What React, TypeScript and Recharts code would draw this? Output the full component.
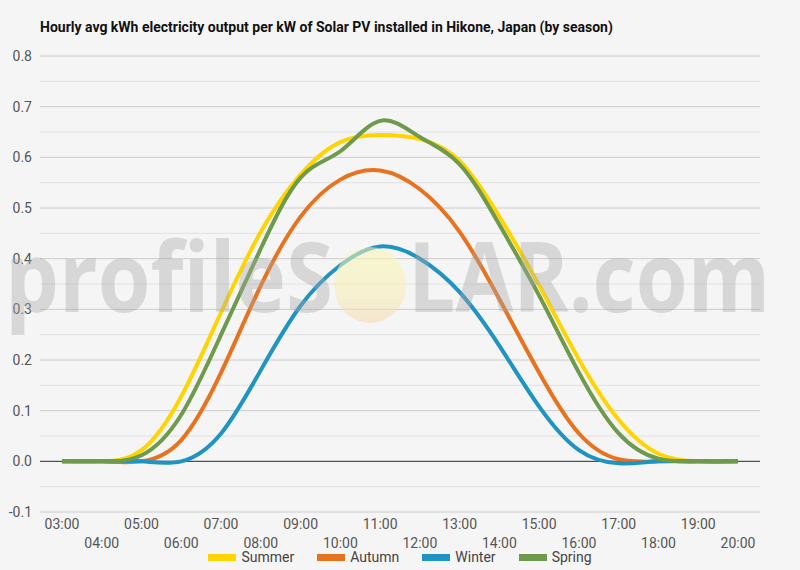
import { CartesianGrid, Line, LineChart, XAxis, YAxis } from "recharts";

const hours = [
  "03:00", "04:00", "05:00", "06:00", "07:00", "08:00", "09:00", "10:00", "11:00",
  "12:00", "13:00", "14:00", "15:00", "16:00", "17:00", "18:00", "19:00", "20:00",
];

const summer = [0, 0, 0.022, 0.128, 0.294, 0.453, 0.566, 0.63, 0.644, 0.636, 0.593, 0.483, 0.347, 0.201, 0.082, 0.015, 0, 0];
const autumn = [0, 0, 0, 0.042, 0.175, 0.347, 0.483, 0.556, 0.574, 0.537, 0.453, 0.32, 0.175, 0.055, 0.004, 0, 0, 0];
const winter = [0, 0, 0, 0, 0.055, 0.18, 0.307, 0.387, 0.424, 0.4, 0.334, 0.228, 0.108, 0.022, -0.004, 0, 0, 0];
const spring = [0, 0, 0.012, 0.092, 0.25, 0.42, 0.56, 0.612, 0.672, 0.64, 0.586, 0.467, 0.327, 0.175, 0.055, 0.005, 0, 0];

const majorTicks = [-0.1, 0, 0.1, 0.2, 0.3, 0.4, 0.5, 0.6, 0.7, 0.8];
const minorTicks = [-0.05, 0.05, 0.15, 0.25, 0.35, 0.45, 0.55, 0.65, 0.75];

const series = [
  { key: "summer", name: "Summer", color: "#FFD400" },
  { key: "autumn", name: "Autumn", color: "#E8731F" },
  { key: "winter", name: "Winter", color: "#1F93C2" },
  { key: "spring", name: "Spring", color: "#6E9A4C" },
];

const data = hours.map((hour, i) => ({
  hour,
  summer: summer[i],
  autumn: autumn[i],
  winter: winter[i],
  spring: spring[i],
}));

const FONT = "Roboto, sans-serif";

function HourTick({ x, y, payload, index }: any) {
  const row = index % 2;
  return (
    <text x={x} y={y + 15 + row * 19} textAnchor="middle" fontSize={14} fill="#555" fontFamily={FONT}>
      {payload.value}
    </text>
  );
}

function Watermark() {
  return (
    <svg width={800} height={570} style={{ position: "absolute", left: 0, top: 0, pointerEvents: "none" }}>
      <defs>
        <linearGradient id="sun" x1="0" y1="0" x2="0" y2="1">
          <stop offset="0%" stopColor="#f9f6b0" />
          <stop offset="60%" stopColor="#f7efb4" />
          <stop offset="100%" stopColor="#f4d6b0" />
        </linearGradient>
      </defs>
      <g fill="#a8a8a8" opacity={0.38} fontFamily="'Open Sans', sans-serif" fontWeight={700} fontSize={96}>
        <text x={5} y={312} textLength={328} lengthAdjust="spacingAndGlyphs">profileS</text>
        <text x={408} y={312} textLength={362} lengthAdjust="spacingAndGlyphs">LAR.com</text>
      </g>
      <ellipse cx={370} cy={285} rx={36} ry={38} fill="url(#sun)" opacity={0.55} />
    </svg>
  );
}

export default function App() {
  return (
    <div style={{ position: "absolute", left: 0, top: 0, width: 800, height: 570, background: "#f5f5f5", fontFamily: FONT }}>
      <div style={{ position: "absolute", left: 40, top: 19, fontSize: 14, fontWeight: 700, color: "#111" }}>
        Hourly avg kWh electricity output per kW of Solar PV installed in Hikone, Japan (by season)
      </div>
      <LineChart width={800} height={570} data={data} margin={{ top: 56, right: 40, bottom: 0, left: 0 }}>
        <CartesianGrid vertical={false} horizontalValues={minorTicks} stroke="#e0e0e0" />
        <CartesianGrid vertical={false} horizontalValues={majorTicks} stroke="#cccccc" />
        <CartesianGrid vertical={false} horizontalValues={[0]} stroke="#333333" />
        <XAxis
          dataKey="hour"
          interval={0}
          axisLine={false}
          tickLine={false}
          tickSize={0}
          height={58}
          padding={{ left: 22, right: 22 }}
          tick={<HourTick />}
        />
        <YAxis
          domain={[-0.1, 0.8]}
          ticks={majorTicks}
          width={40}
          axisLine={false}
          tickLine={false}
          tickFormatter={(v: number) => v.toFixed(1)}
          tick={{ fontSize: 14, fill: "#555", fontFamily: FONT }}
        />
        {series.map((s) => (
          <Line
            key={s.key}
            type="natural"
            dataKey={s.key}
            name={s.name}
            stroke={s.color}
            strokeWidth={4}
            dot={false}
            activeDot={false}
            isAnimationActive={false}
          />
        ))}
      </LineChart>
      <div
        style={{
          position: "absolute",
          left: 0,
          width: 800,
          top: 549,
          display: "flex",
          justifyContent: "center",
          gap: 23,
          fontSize: 14,
          color: "#444",
        }}
      >
        {series.map((s) => (
          <div key={s.key} style={{ display: "flex", alignItems: "center", gap: 5 }}>
            <span style={{ display: "inline-block", width: 28, height: 7, background: s.color }} />
            <span>{s.name}</span>
          </div>
        ))}
      </div>
      <Watermark />
    </div>
  );
}
